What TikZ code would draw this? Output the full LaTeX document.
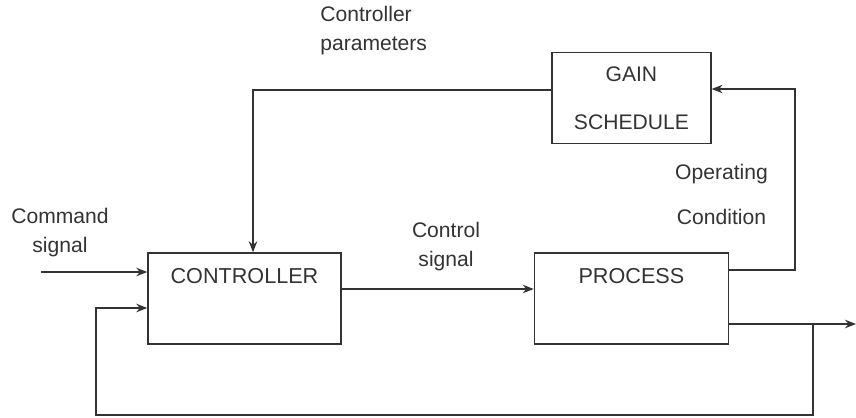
\documentclass[tikz,border=0pt]{standalone}
\usepackage{fontspec}
\setmainfont{Liberation Sans}
\usepackage{tikz}
\usetikzlibrary{positioning,arrows.meta}

\begin{document}
\begin{tikzpicture}[
  box/.style={draw=black!80, line width=0.8pt, inner sep=0pt, minimum height=1.82cm, align=center},
  topbox/.style={box, text height=0.6cm, text depth=1.22cm},
  arr/.style={-{Stealth[length=2.2mm, width=1.7mm]}, line width=0.8pt, draw=black!80},
  lbl/.style={text=black!80, font=\fontsize{12}{16.5}\selectfont, align=center, inner sep=0pt}
]
\useasboundingbox (0,0) rectangle (17.12,-8.34);
\node[topbox, minimum width=3.86cm, text width=3.5cm, font=\fontsize{12.3}{14}\selectfont, text=black!80] (ctrl) at (4.89,-5.97) {CONTROLLER};
\node[topbox, right=3.84cm of ctrl, minimum width=3.88cm, font=\fontsize{12.3}{14}\selectfont, text=black!80] (proc) {PROCESS};
\node[box, above=2.16cm of proc, minimum width=3.18cm, font=\fontsize{12}{27}\selectfont, text=black!80] (gain) {GAIN\\SCHEDULE};

\node[lbl, align=left, anchor=west] (cpar) at (6.4,-0.62) {Controller\\parameters};
\node[lbl] (cmdl) at (1.2,-4.66) {Command\\signal};
\node[lbl] (csig) at (8.92,-4.94) {Control\\signal};
\node[lbl, font=\fontsize{12}{25.5}\selectfont] (opc) at (14.43,-3.89) {Operating\\Condition};

\coordinate (cmd) at (0.82,-5.44);
\coordinate (op) at (15.9,-1.78);
\coordinate (out) at (17.12,-6.48);
\coordinate (fb) at (16.26,-6.48);
\coordinate (fbl) at (1.92,-8.3);

\draw[arr] ([yshift=0.16cm]gain.west) -| ([xshift=0.17cm]ctrl.north);
\draw[arr] (cmd) -- (cmd -| ctrl.west);
\draw[arr] ([yshift=0.19cm]ctrl.east) -- ([yshift=0.19cm]ctrl.east -| proc.west);
\draw[arr] ([yshift=0.57cm]proc.east) -| (op) -- (op -| gain.east);
\draw[arr] (out -| proc.east) -- (out);
\draw[arr] (fb) |- (fbl) |- ([yshift=-0.19cm]ctrl.west);
\end{tikzpicture}
\end{document}
